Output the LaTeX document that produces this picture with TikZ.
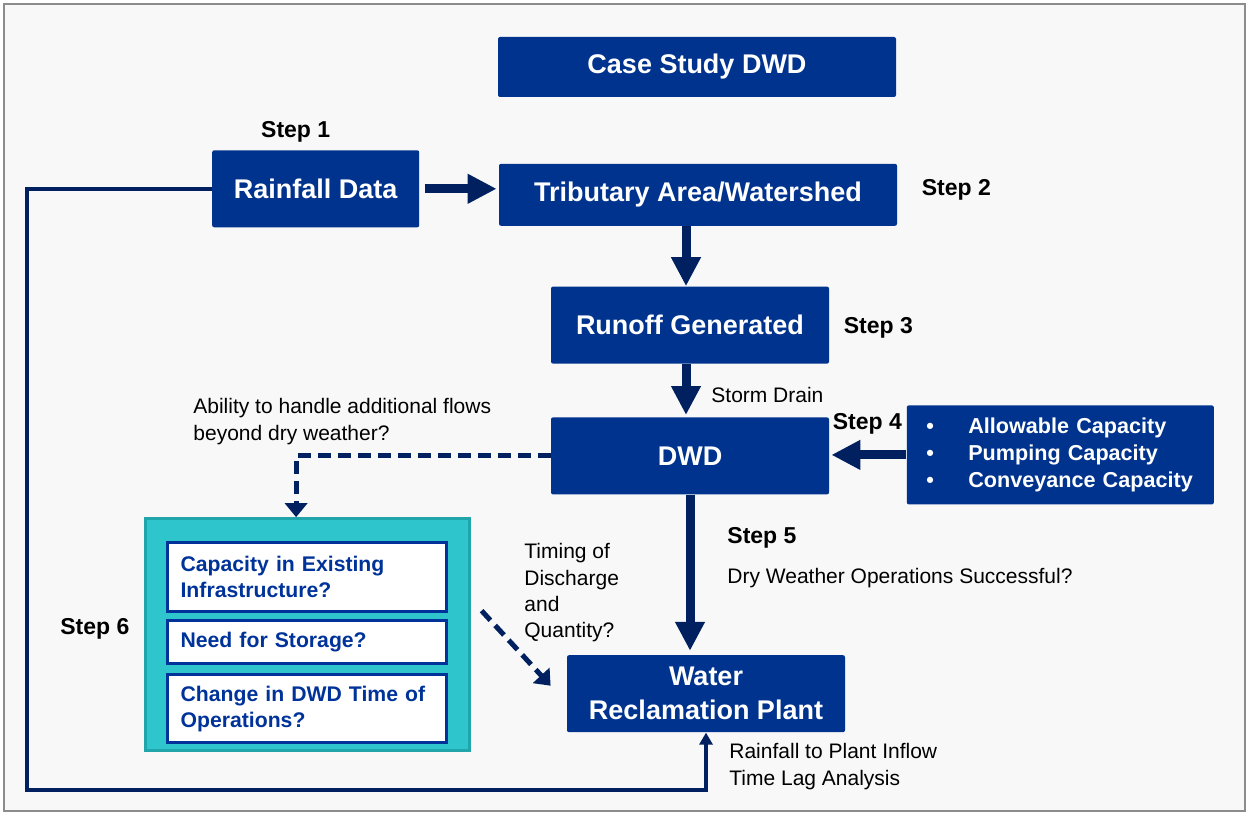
\documentclass[tikz,border=0pt]{standalone}
\usepackage{fontspec}
\setmainfont{Liberation Sans}
\usetikzlibrary{positioning,arrows.meta,calc}

\definecolor{boxblue}{RGB}{0,51,141}
\definecolor{arrnavy}{RGB}{0,32,96}
\definecolor{qblue}{RGB}{0,51,153}
\definecolor{tealfill}{RGB}{46,197,204}
\definecolor{tealedge}{RGB}{32,165,170}
\definecolor{bggray}{RGB}{248,248,248}
\definecolor{framegray}{RGB}{140,140,140}

\begin{document}
\begin{tikzpicture}[x=0.5pt, y=-0.5pt,
bluebox/.style={fill=boxblue, text=white, rounded corners=1pt, align=center, inner sep=0pt, font=\bfseries\fontsize{13.5}{17}\selectfont},
listbox/.style={fill=boxblue, text=white, rounded corners=1pt, align=left, inner ysep=0pt, inner xsep=9.75pt, text width=134pt, font=\bfseries\fontsize{10.8}{13.5}\selectfont},
qbox/.style={draw=qblue, line width=1.5pt, fill=white, text=qblue, align=left, inner ysep=0pt, inner xsep=6.5pt, text width=126.5pt, font=\bfseries\fontsize{10.6}{13}\selectfont},
steplabel/.style={inner sep=0pt, font=\bfseries\fontsize{11.5}{14}\selectfont},
note/.style={inner sep=0pt, align=left, font=\fontsize{10.5}{13.2}\selectfont},
bigarr/.style={-{Triangle[length=14.5pt,width=14pt]}, line width=4.5pt, arrnavy},
thinarr/.style={-{Triangle[length=6pt,width=6.5pt]}, line width=2pt, arrnavy},
dasharr/.style={-{Triangle[length=7pt,width=11pt]}, line width=2.5pt, arrnavy, dash pattern=on 6.5pt off 3.5pt}
]
\useasboundingbox (0,0) rectangle (1247,813);
\fill[white] (0,0) rectangle (1247,813);
\draw[framegray, line width=1pt, fill=bggray] (3.5,4) rectangle (1245,811);

% main chain
\node[bluebox, minimum width=199pt, minimum height=30pt] (case) at (697,67) {Case Study DWD};
\node[bluebox, minimum width=199pt, minimum height=31pt, below=33pt of case, xshift=0.5pt] (trib) {Tributary Area/Watershed};
\node[bluebox, minimum width=103.5pt, minimum height=38.5pt, left=39.5pt of trib, yshift=3pt] (rain) {Rainfall Data};
\node[bluebox, minimum width=139pt, minimum height=38.5pt, below=30pt of trib, xshift=-4pt] (runoff) {Runoff Generated};
\node[bluebox, minimum width=139pt, minimum height=38.5pt, below=26.5pt of runoff] (dwd) {DWD};
\node[listbox, minimum height=49.5pt, right=38.5pt of dwd, yshift=0.5pt] (cap) {\makebox[21pt][l]{\textbullet}Allowable Capacity\\\makebox[21pt][l]{\textbullet}Pumping Capacity\\\makebox[21pt][l]{\textbullet}Conveyance Capacity};
\node[bluebox, minimum width=139pt, minimum height=38.5pt, below=80pt of dwd, xshift=8pt] (wrp) {Water\\Reclamation Plant};

% step 6 options
\node[fill=tealfill, draw=tealedge, line width=1.5pt, minimum width=162pt, minimum height=116pt, left=48pt of wrp, yshift=29.5pt] (options) {};
\node[qbox, minimum height=34.5pt, below=12pt of options.north] (q1) {Capacity in Existing\\Infrastructure?};
\node[qbox, minimum height=21.5pt, below=3pt of q1] (q2) {Need for Storage?};
\node[qbox, minimum height=34pt, below=4pt of q2] (q3) {\mbox{Change in DWD Time of}\\Operations?};

% labels
\node[steplabel, above=3.5pt of rain, xshift=-10pt] (s1) {Step 1};
\node[steplabel, right=12pt of trib, yshift=2.5pt] (s2) {Step 2};
\node[steplabel, right=7pt of runoff, yshift=-1.5pt] (s3) {Step 3};
\node[steplabel, anchor=base west] (s4) at ([xshift=1.5pt,yshift=-6pt]dwd.north east) {Step 4};
\node[steplabel, anchor=base west] (s5) at ([xshift=18.5pt,yshift=-24.5pt]dwd.south) {Step 5};
\node[steplabel, anchor=base west] (s6) at (60,634) {Step 6};
\node[note, anchor=base west] (drain) at (711,402) {Storm Drain};
\node[note, anchor=base west] (dry) at ([yshift=-20pt]s5.base west) {Dry Weather Operations Successful?};
\node[note, anchor=north west] (ability) at (193,398) {Ability to handle additional flows\\beyond dry weather?};
\node[note, anchor=north west] (timing) at (524,543) {Timing of\\Discharge\\and\\Quantity?};
\node[note, anchor=north west] (lag) at (729,743) {Rainfall to Plant Inflow\\Time Lag Analysis};

% connectors
\draw[bigarr, shorten >=1pt] ([xshift=2.5pt]rain.east) -- (rain.east -| trib.west);
\draw[bigarr] ([xshift=-2pt]runoff.north |- trib.south) -- ([xshift=-2pt]runoff.north);
\draw[bigarr, shorten >=1pt] ([xshift=-2pt]runoff.south) -- ([xshift=-2pt]dwd.north);
\draw[bigarr, shorten >=1pt] (cap.west) -- (cap.west -| dwd.east);
\draw[bigarr, shorten >=2pt] (dwd.south) -- (dwd.south |- wrp.north);
\draw[dasharr] (dwd.west) -| ([xshift=-5.5pt]options.north);
\draw[dasharr] ([xshift=5.5pt,yshift=12pt]options.east) -- ([xshift=-8pt,yshift=4pt]wrp.west);
\coordinate (loop) at (27,790);
\draw[thinarr] (rain.west) -| (loop) -| (wrp.south);
\end{tikzpicture}
\end{document}
